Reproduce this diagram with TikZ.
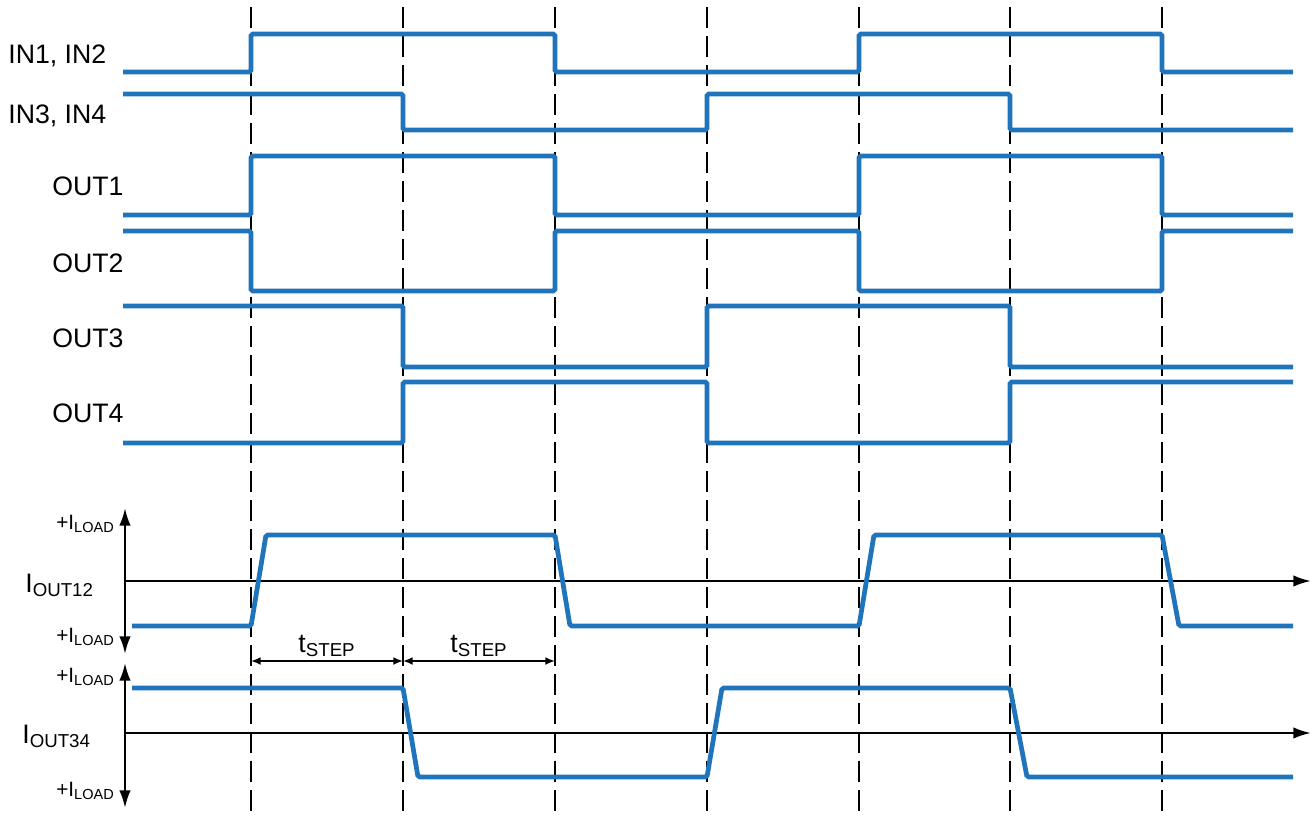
\documentclass[tikz,border=0pt]{standalone}
\usepackage{fontspec}
\setmainfont{Liberation Sans}
\usetikzlibrary{arrows.meta}
\definecolor{wave}{RGB}{31,116,187}

\begin{document}
\begin{tikzpicture}[x=0.02cm, y=-0.02cm,
    sig/.style={draw=wave, line width=2.7pt, rounded corners=1pt},
    guide/.style={draw=black, line width=0.8pt, dash pattern=on 12pt off 4.5pt},
    axis/.style={draw=black, line width=1.3pt,
                 {Latex[length=10pt,width=6.5pt]}-{Latex[length=10pt,width=6.5pt]}},
    haxis/.style={draw=black, line width=1.3pt, -{Latex[length=10pt,width=6.5pt]}},
    span/.style={draw=black, line width=1pt,
                 {Latex[length=5.5pt,width=4.5pt]}-{Latex[length=5.5pt,width=4.5pt]}},
    lbl/.style={inner sep=0pt, font=\fontsize{15.2}{18}\selectfont},
    lvl/.style={inner sep=0pt, font=\fontsize{11.8}{14}\selectfont, anchor=base east}]

  \useasboundingbox (0,0) rectangle (1316,818);

  %% Guide lines
  \foreach \gx in {251,403,555,707,859,1010,1162}
    \draw[guide] (\gx,7) -- (\gx,815);

  %% Input / output levels
  \node[lbl, anchor=base west] (in12)  at (8,63)   {IN1, IN2};
  \node[lbl, anchor=base west] (in34)  at (8,123)  {IN3, IN4};
  \node[lbl, anchor=base west] (out1)  at (52,195) {OUT1};
  \node[lbl, anchor=base west] (out2)  at (52,272) {OUT2};
  \node[lbl, anchor=base west] (out3)  at (52,347) {OUT3};
  \node[lbl, anchor=base west] (out4)  at (52,422) {OUT4};

  \draw[sig] (123,72) -| (251,34) -| (555,72) -| (859,34) -| (1162,72) -- (1293,72);
  \draw[sig] (123,94) -| (403,130) -| (707,94) -| (1010,130) -- (1293,130);
  \draw[sig] (123,215) -| (251,156) -| (555,215) -| (859,156) -| (1162,215) -- (1293,215);
  \draw[sig] (123,231) -| (251,291) -| (555,231) -| (859,291) -| (1162,231) -- (1293,231);
  \draw[sig] (123,306) -| (403,367) -| (707,306) -| (1010,367) -- (1293,367);
  \draw[sig] (123,443) -| (403,382) -| (707,443) -| (1010,382) -- (1293,382);

  %% Load currents
  \coordinate (ax1t) at (125,508);
  \coordinate (ax1b) at (125,654);
  \coordinate (ax1e) at (1311,581);
  \coordinate (ax2t) at (125,663);
  \coordinate (ax2b) at (125,808);
  \coordinate (ax2e) at (1311,733);
  \draw[axis]  (ax1t) -- (ax1b);
  \draw[haxis] (ax1t |- ax1e) -- (ax1e);
  \draw[axis]  (ax2t) -- (ax2b);
  \draw[haxis] (ax2t |- ax2e) -- (ax2e);

  \node[lbl, anchor=base west] (iout12) at (25,592) {I\textsubscript{OUT12}};
  \node[lbl, anchor=base west] (iout34) at (22,743) {I\textsubscript{OUT34}};
  \node[lvl] (lvl1t) at (115,529) {+I\textsubscript{LOAD}};
  \node[lvl] (lvl1b) at (115,642) {+I\textsubscript{LOAD}};
  \node[lvl] (lvl2t) at (115,682) {+I\textsubscript{LOAD}};
  \node[lvl] (lvl2b) at (115,796) {+I\textsubscript{LOAD}};

  \draw[sig] (132,626) -- (251,626) -- (266,535) -- (555,535) -- (570,626)
             -- (859,626) -- (874,535) -- (1162,535) -- (1179,626) -- (1293,626);
  \draw[sig] (132,688) -- (403,688) -- (418,777) -- (707,777) -- (722,688)
             -- (1010,688) -- (1027,777) -- (1293,777);

  %% Step times
  \coordinate (st0) at (251,661);
  \coordinate (st1) at (403,661);
  \coordinate (st2) at (555,661);
  \draw[span] (st0) -- (st1);
  \draw[span] (st1) -- (st2);
  \node[lbl, anchor=base] (tstep1) at (327,652) {t\textsubscript{STEP}};
  \node[lbl, anchor=base] (tstep2) at (479,652) {t\textsubscript{STEP}};
\end{tikzpicture}
\end{document}
